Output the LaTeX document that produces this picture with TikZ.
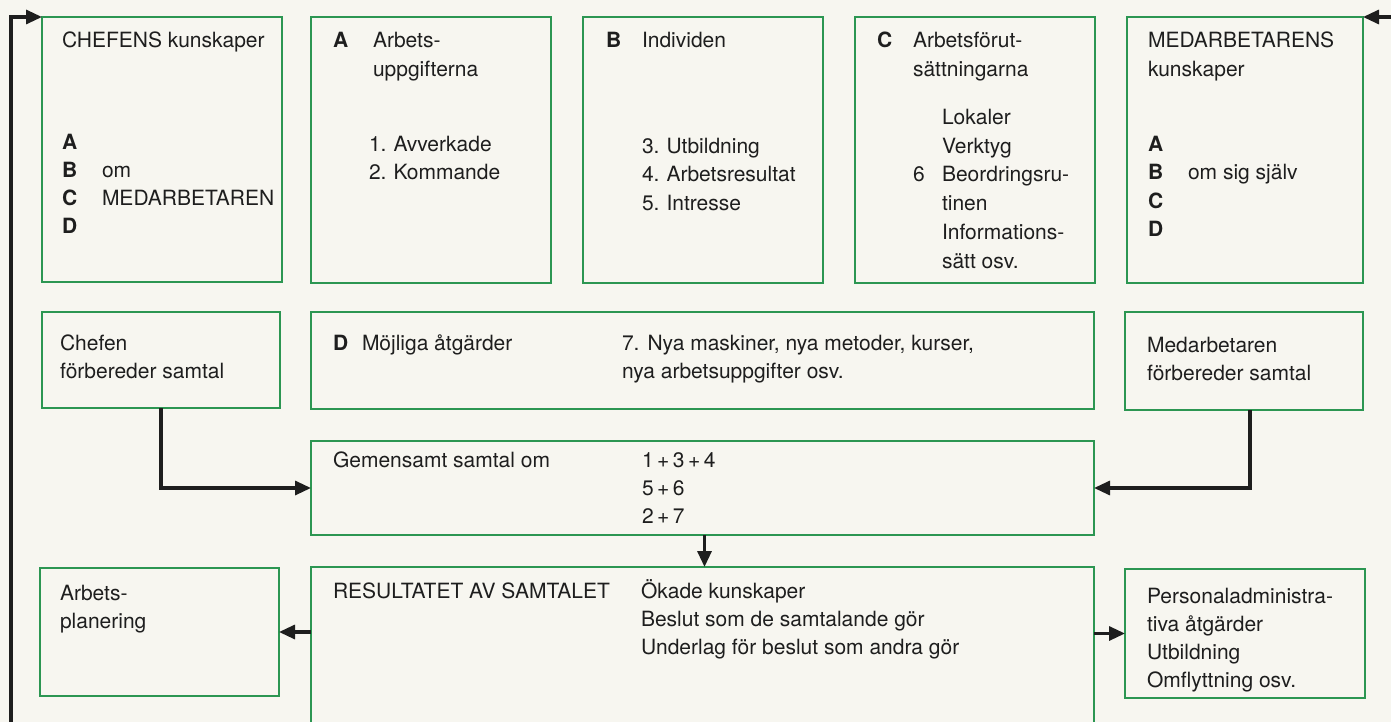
\documentclass[tikz,border=0pt]{standalone}
\usepackage{fontspec}
\setmainfont{TeX Gyre Heros}
\usetikzlibrary{arrows.meta}
\definecolor{bg}{RGB}{247,246,240}
\definecolor{boxgreen}{RGB}{44,150,82}
\definecolor{ink}{RGB}{30,30,30}
\begin{document}
\begin{tikzpicture}[x=1pt,y=-1pt,
  box/.style={draw=boxgreen,line width=2.5pt,anchor=north west,inner sep=0pt,outer sep=0pt},
  txt/.style={anchor=base west,inner sep=0pt,outer sep=0pt,font=\fontsize{21}{27}\selectfont,text=ink},
  lbl/.style={txt,font=\fontsize{21}{27}\selectfont\bfseries},
  conn/.style={line width=3.2pt,draw=ink,-{Triangle[length=16pt,width=14pt]}}]
\fill[bg] (0,0) rectangle (1391,722);
\useasboundingbox (0,0) rectangle (1391,722);
% ---- boxes
\node[box,minimum width=240pt,minimum height=265pt] (b1) at (42,17) {};
\node[box,minimum width=240pt,minimum height=266pt] (bA) at (311,17) {};
\node[box,minimum width=240pt,minimum height=266pt] (bB) at (583,17) {};
\node[box,minimum width=240pt,minimum height=266pt] (bC) at (855,17) {};
\node[box,minimum width=236pt,minimum height=266pt] (b5) at (1127,17) {};
\node[box,minimum width=238pt,minimum height=96pt] (chef) at (42,312) {};
\node[box,minimum width=783pt,minimum height=97pt] (dbox) at (311,312) {};
\node[box,minimum width=238pt,minimum height=98pt] (med) at (1125,312) {};
\node[box,minimum width=783pt,minimum height=94pt] (gem) at (311,441) {};
\node[box,minimum width=239pt,minimum height=128pt] (arb) at (40,568) {};
\node[box,minimum width=783pt,minimum height=180pt] (res) at (311,567) {};
\node[box,minimum width=240pt,minimum height=129pt] (pers) at (1125,569) {};
% ---- box 1
\node[txt] (t1a) at (62,48) {CHEFENS kunskaper};
\node[lbl] (t1b) at (62,150) {A};
\node[lbl] (t1c) at (62,178) {B};
\node[lbl] (t1d) at (62,205) {C};
\node[lbl] (t1e) at (62,233) {D};
\node[txt] (t1f) at (102,178) {om};
\node[txt] (t1g) at (102,205) {MEDARBETAREN};
% ---- box A
\node[lbl] (tAa) at (333,48) {A};
\node[txt] (tAb) at (373,48) {Arbets-};
\node[txt] (tAc) at (373,77) {uppgifterna};
\node[txt] (tAd) at (369,152) {1.\hspace{7pt}Avverkade};
\node[txt] (tAe) at (369,180) {2.\hspace{7pt}Kommande};
% ---- box B
\node[lbl] (tBa) at (606,48) {B};
\node[txt] (tBb) at (642,48) {Individen};
\node[txt] (tBc) at (642,154) {3.\hspace{7pt}Utbildning};
\node[txt] (tBd) at (642,182) {4.\hspace{7pt}Arbetsresultat};
\node[txt] (tBe) at (642,210) {5.\hspace{7pt}Intresse};
% ---- box C
\node[lbl] (tCa) at (877,48) {C};
\node[txt] (tCb) at (913,48) {Arbetsförut-};
\node[txt] (tCc) at (913,77) {sättningarna};
\node[txt] (tCd) at (942,125) {Lokaler};
\node[txt] (tCe) at (942,154) {Verktyg};
\node[txt] (tCf) at (913,182) {6};
\node[txt] (tCg) at (942,182) {Beordringsru-};
\node[txt] (tCh) at (942,210) {tinen};
\node[txt] (tCi) at (942,239) {Informations-};
\node[txt] (tCj) at (942,268) {sätt osv.};
% ---- box 5
\node[txt] (t5a) at (1148,48) {MEDARBETARENS};
\node[txt] (t5b) at (1148,77) {kunskaper};
\node[lbl] (t5c) at (1148,152) {A};
\node[lbl] (t5d) at (1148,180) {B};
\node[lbl] (t5e) at (1148,208) {C};
\node[lbl] (t5f) at (1148,236) {D};
\node[txt] (t5g) at (1188,180) {om sig själv};
% ---- row 2
\node[txt] (tch1) at (60,350) {Chefen};
\node[txt] (tch2) at (60,378) {förbereder samtal};
\node[lbl] (tD1) at (333,350) {D};
\node[txt] (tD2) at (362,350) {Möjliga åtgärder};
\node[txt] (tD3) at (622,350) {7.\hspace{8pt}Nya maskiner, nya metoder, kurser,};
\node[txt] (tD4) at (622,378) {nya arbetsuppgifter osv.};
\node[txt] (tm1) at (1147,352) {Medarbetaren};
\node[txt] (tm2) at (1147,380) {förbereder samtal};
% ---- row 3
\node[txt] (tg1) at (333,467) {Gemensamt samtal om};
\node[txt] (tg2) at (642,467) {1\thinspace+\thinspace3\thinspace+\thinspace4};
\node[txt] (tg3) at (642,495) {5\thinspace+\thinspace6};
\node[txt] (tg4) at (642,523) {2\thinspace+\thinspace7};
% ---- row 4
\node[txt] (ta1) at (60,600) {Arbets-};
\node[txt] (ta2) at (60,628) {planering};
\node[txt] (tr1) at (333,598) {RESULTATET AV SAMTALET};
\node[txt] (tr2) at (641,598) {Ökade kunskaper};
\node[txt] (tr3) at (641,626) {Beslut som de samtalande gör};
\node[txt] (tr4) at (641,654) {Underlag för beslut som andra gör};
\node[txt] (tp1) at (1147,603) {Personaladministra-};
\node[txt] (tp2) at (1147,631) {tiva åtgärder};
\node[txt] (tp3) at (1147,659) {Utbildning};
\node[txt] (tp4) at (1147,687) {Omflyttning osv.};
% ---- connectors
\coordinate (lbot) at (11,730);
\coordinate (rin) at (1395,17);
\draw[conn] (lbot) |- (b1.north west);
\draw[conn] (rin) -- (b5.north east);
\draw[conn] (chef.south) |- (gem.west);
\draw[conn] ([xshift=6pt]med.south) |- (gem.east);
\draw[conn] ([xshift=2pt]gem.south) -- ([xshift=2pt]gem.south |- res.north);
\draw[conn] (res.west |- arb.east) -- (arb.east);
\draw[conn] (res.east |- pers.west) -- (pers.west);
\end{tikzpicture}
\end{document}
